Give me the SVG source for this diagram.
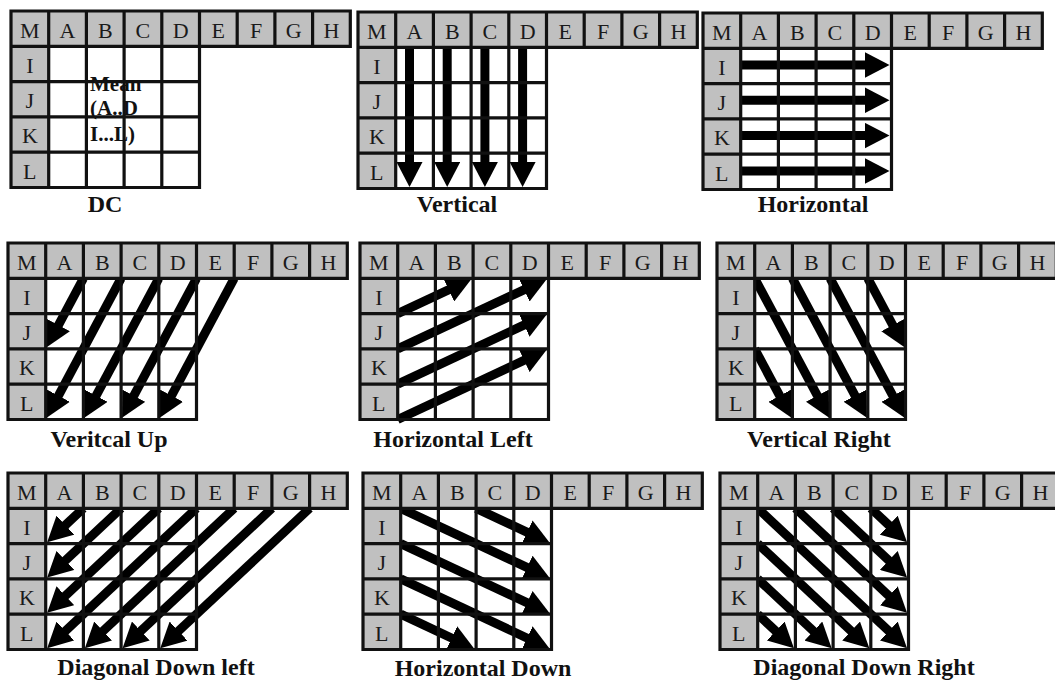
<svg xmlns="http://www.w3.org/2000/svg" xmlns:xlink="http://www.w3.org/1999/xlink" width="1055" height="680" viewBox="0 0 1055 680">
<style>
.w{fill:#fff}
.g{fill:#c0c0c0}
.ln{fill:none;stroke:#111;stroke-width:3.2;stroke-linecap:square}
.lt text{font-family:"Liberation Serif","Times New Roman",serif;font-size:22px;fill:#1a1a1a;text-anchor:middle}
.cap{font-family:"Liberation Serif","Times New Roman",serif;font-weight:bold;font-size:24px;fill:#111;text-anchor:middle}
.mean{font-family:"Liberation Serif","Times New Roman",serif;font-weight:bold;font-size:21px;fill:#111}
.conn line{stroke:#000;stroke-width:9;marker-end:url(#ah)}
</style>
<defs>
<marker id="ah" markerUnits="userSpaceOnUse" markerWidth="25" markerHeight="26" viewBox="0 0 25 26" refX="11" refY="13" orient="auto"><path d="M0,0 L25,13 L0,26 z" fill="#000"/></marker>
<rect id="cw" class="w" x="37.7" y="35.3" width="150.8" height="141.2"/>
<path id="cg" class="g" d="M0,0H339.3V35.3H37.7V176.5H0Z"/>
<path id="gl" class="ln" d="M0,0H339.3M0,35.3H339.3M0,70.6H188.5M0,105.9H188.5M0,141.2H188.5M0,176.5H188.5M0,0V176.5M37.7,0V176.5M75.4,0V176.5M113.1,0V176.5M150.8,0V176.5M188.5,0V176.5M226.2,0V35.3M263.9,0V35.3M301.6,0V35.3M339.3,0V35.3"/>
</defs>
<rect width="1055" height="680" fill="#fff"/>

<g id="dc" transform="translate(11,11)">
<use href="#cw"/>
<text class="mean" x="79" y="80">Mean</text>
<text class="mean" x="79" y="104">(A..D</text>
<text class="mean" x="79" y="130">I...L)</text>
<use href="#cg"/><use href="#gl"/>
<g class="lt"><text x="18.85" y="26.5">M</text><text x="56.55" y="26.5">A</text><text x="94.25" y="26.5">B</text><text x="131.95" y="26.5">C</text><text x="169.65" y="26.5">D</text><text x="207.35" y="26.5">E</text><text x="245.05" y="26.5">F</text><text x="282.75" y="26.5">G</text><text x="320.45" y="26.5">H</text><text x="18.85" y="61.8">I</text><text x="18.85" y="97.1">J</text><text x="18.85" y="132.4">K</text><text x="18.85" y="167.7">L</text></g>
<text class="cap" x="94" y="201">DC</text>
</g>

<g id="vertical" transform="translate(358,12)">
<use href="#cw"/>
<g id="conn-vertical" class="conn">
<line x1="51.5" y1="35.3" x2="51.5" y2="161"/>
<line x1="89.2" y1="35.3" x2="89.2" y2="161"/>
<line x1="126.9" y1="35.3" x2="126.9" y2="161"/>
<line x1="164.6" y1="35.3" x2="164.6" y2="161"/>
</g>
<use href="#cg"/><use href="#gl"/>
<g class="lt"><text x="18.85" y="26.5">M</text><text x="56.55" y="26.5">A</text><text x="94.25" y="26.5">B</text><text x="131.95" y="26.5">C</text><text x="169.65" y="26.5">D</text><text x="207.35" y="26.5">E</text><text x="245.05" y="26.5">F</text><text x="282.75" y="26.5">G</text><text x="320.45" y="26.5">H</text><text x="18.85" y="61.8">I</text><text x="18.85" y="97.1">J</text><text x="18.85" y="132.4">K</text><text x="18.85" y="167.7">L</text></g>
<text class="cap" x="99" y="200">Vertical</text>
</g>

<g id="horizontal" transform="translate(703,13)">
<use href="#cw"/>
<g id="conn-horizontal" class="conn">
<line x1="37.7" y1="52" x2="172.5" y2="52"/>
<line x1="37.7" y1="87.3" x2="172.5" y2="87.3"/>
<line x1="37.7" y1="122.6" x2="172.5" y2="122.6"/>
<line x1="37.7" y1="157.9" x2="172.5" y2="157.9"/>
</g>
<use href="#cg"/><use href="#gl"/>
<g class="lt"><text x="18.85" y="26.5">M</text><text x="56.55" y="26.5">A</text><text x="94.25" y="26.5">B</text><text x="131.95" y="26.5">C</text><text x="169.65" y="26.5">D</text><text x="207.35" y="26.5">E</text><text x="245.05" y="26.5">F</text><text x="282.75" y="26.5">G</text><text x="320.45" y="26.5">H</text><text x="18.85" y="61.8">I</text><text x="18.85" y="97.1">J</text><text x="18.85" y="132.4">K</text><text x="18.85" y="167.7">L</text></g>
<text class="cap" x="110" y="199">Horizontal</text>
</g>

<g id="vertical-up" transform="translate(8,243)">
<use href="#cw"/>
<g id="conn-vertical-up" class="conn">
<line x1="75.4" y1="35.3" x2="45.24" y2="91.79"/>
<line x1="113.1" y1="35.3" x2="45.24" y2="162.39"/>
<line x1="150.8" y1="35.3" x2="82.94" y2="162.39"/>
<line x1="188.5" y1="35.3" x2="120.64" y2="162.39"/>
<line x1="226.2" y1="35.3" x2="158.34" y2="162.39"/>
</g>
<use href="#cg"/><use href="#gl"/>
<g class="lt"><text x="18.85" y="26.5">M</text><text x="56.55" y="26.5">A</text><text x="94.25" y="26.5">B</text><text x="131.95" y="26.5">C</text><text x="169.65" y="26.5">D</text><text x="207.35" y="26.5">E</text><text x="245.05" y="26.5">F</text><text x="282.75" y="26.5">G</text><text x="320.45" y="26.5">H</text><text x="18.85" y="61.8">I</text><text x="18.85" y="97.1">J</text><text x="18.85" y="132.4">K</text><text x="18.85" y="167.7">L</text></g>
<text class="cap" x="101" y="204">Veritcal Up</text>
</g>

<g id="horizontal-left" transform="translate(360,243)">
<use href="#cw"/>
<g id="conn-horizontal-left" class="conn">
<line x1="37.7" y1="70.6" x2="98.61" y2="42.08"/>
<line x1="37.7" y1="105.9" x2="174.01" y2="42.08"/>
<line x1="37.7" y1="141.2" x2="174.01" y2="77.38"/>
<line x1="37.7" y1="176.5" x2="174.01" y2="112.68"/>
</g>
<use href="#cg"/><use href="#gl"/>
<g class="lt"><text x="18.85" y="26.5">M</text><text x="56.55" y="26.5">A</text><text x="94.25" y="26.5">B</text><text x="131.95" y="26.5">C</text><text x="169.65" y="26.5">D</text><text x="207.35" y="26.5">E</text><text x="245.05" y="26.5">F</text><text x="282.75" y="26.5">G</text><text x="320.45" y="26.5">H</text><text x="18.85" y="61.8">I</text><text x="18.85" y="97.1">J</text><text x="18.85" y="132.4">K</text><text x="18.85" y="167.7">L</text></g>
<text class="cap" x="93" y="204">Horizontal Left</text>
</g>

<g id="vertical-right" transform="translate(717,243)">
<use href="#cw"/>
<g id="conn-vertical-right" class="conn">
<line x1="150.8" y1="35.3" x2="180.96" y2="91.79"/>
<line x1="37.7" y1="105.9" x2="67.86" y2="162.39"/>
<line x1="37.7" y1="35.3" x2="105.56" y2="162.39"/>
<line x1="75.4" y1="35.3" x2="143.26" y2="162.39"/>
<line x1="113.1" y1="35.3" x2="180.96" y2="162.39"/>
</g>
<use href="#cg"/><use href="#gl"/>
<g class="lt"><text x="18.85" y="26.5">M</text><text x="56.55" y="26.5">A</text><text x="94.25" y="26.5">B</text><text x="131.95" y="26.5">C</text><text x="169.65" y="26.5">D</text><text x="207.35" y="26.5">E</text><text x="245.05" y="26.5">F</text><text x="282.75" y="26.5">G</text><text x="320.45" y="26.5">H</text><text x="18.85" y="61.8">I</text><text x="18.85" y="97.1">J</text><text x="18.85" y="132.4">K</text><text x="18.85" y="167.7">L</text></g>
<text class="cap" x="102" y="204">Vertical Right</text>
</g>

<g id="diagonal-down-left" transform="translate(8,473)">
<use href="#cw"/>
<g id="conn-diagonal-down-left" class="conn">
<line x1="75.4" y1="35.3" x2="49.38" y2="59.66"/>
<line x1="113.1" y1="35.3" x2="49.38" y2="94.96"/>
<line x1="150.8" y1="35.3" x2="49.38" y2="130.26"/>
<line x1="188.5" y1="35.3" x2="49.38" y2="165.56"/>
<line x1="226.2" y1="35.3" x2="87.08" y2="165.56"/>
<line x1="263.9" y1="35.3" x2="124.78" y2="165.56"/>
<line x1="301.6" y1="35.3" x2="162.48" y2="165.56"/>
</g>
<use href="#cg"/><use href="#gl"/>
<g class="lt"><text x="18.85" y="26.5">M</text><text x="56.55" y="26.5">A</text><text x="94.25" y="26.5">B</text><text x="131.95" y="26.5">C</text><text x="169.65" y="26.5">D</text><text x="207.35" y="26.5">E</text><text x="245.05" y="26.5">F</text><text x="282.75" y="26.5">G</text><text x="320.45" y="26.5">H</text><text x="18.85" y="61.8">I</text><text x="18.85" y="97.1">J</text><text x="18.85" y="132.4">K</text><text x="18.85" y="167.7">L</text></g>
<text class="cap" x="148" y="202">Diagonal Down left</text>
</g>

<g id="horizontal-down" transform="translate(363,473)">
<use href="#cw"/>
<g id="conn-horizontal-down" class="conn">
<line x1="113.1" y1="35.3" x2="174.01" y2="63.82"/>
<line x1="37.7" y1="35.3" x2="174.01" y2="99.12"/>
<line x1="37.7" y1="70.6" x2="174.01" y2="134.42"/>
<line x1="37.7" y1="105.9" x2="174.01" y2="169.72"/>
<line x1="37.7" y1="141.2" x2="98.61" y2="169.72"/>
</g>
<use href="#cg"/><use href="#gl"/>
<g class="lt"><text x="18.85" y="26.5">M</text><text x="56.55" y="26.5">A</text><text x="94.25" y="26.5">B</text><text x="131.95" y="26.5">C</text><text x="169.65" y="26.5">D</text><text x="207.35" y="26.5">E</text><text x="245.05" y="26.5">F</text><text x="282.75" y="26.5">G</text><text x="320.45" y="26.5">H</text><text x="18.85" y="61.8">I</text><text x="18.85" y="97.1">J</text><text x="18.85" y="132.4">K</text><text x="18.85" y="167.7">L</text></g>
<text class="cap" x="120" y="203">Horizontal Down</text>
</g>

<g id="diagonal-down-right" transform="translate(720,473)">
<use href="#cw"/>
<g id="conn-diagonal-down-right" class="conn">
<line x1="150.8" y1="35.3" x2="176.82" y2="59.66"/>
<line x1="113.1" y1="35.3" x2="176.82" y2="94.96"/>
<line x1="75.4" y1="35.3" x2="176.82" y2="130.26"/>
<line x1="37.7" y1="35.3" x2="176.82" y2="165.56"/>
<line x1="37.7" y1="70.6" x2="139.12" y2="165.56"/>
<line x1="37.7" y1="105.9" x2="101.42" y2="165.56"/>
<line x1="37.7" y1="141.2" x2="63.72" y2="165.56"/>
</g>
<use href="#cg"/><use href="#gl"/>
<g class="lt"><text x="18.85" y="26.5">M</text><text x="56.55" y="26.5">A</text><text x="94.25" y="26.5">B</text><text x="131.95" y="26.5">C</text><text x="169.65" y="26.5">D</text><text x="207.35" y="26.5">E</text><text x="245.05" y="26.5">F</text><text x="282.75" y="26.5">G</text><text x="320.45" y="26.5">H</text><text x="18.85" y="61.8">I</text><text x="18.85" y="97.1">J</text><text x="18.85" y="132.4">K</text><text x="18.85" y="167.7">L</text></g>
<text class="cap" x="144" y="202">Diagonal Down Right</text>
</g>
</svg>
